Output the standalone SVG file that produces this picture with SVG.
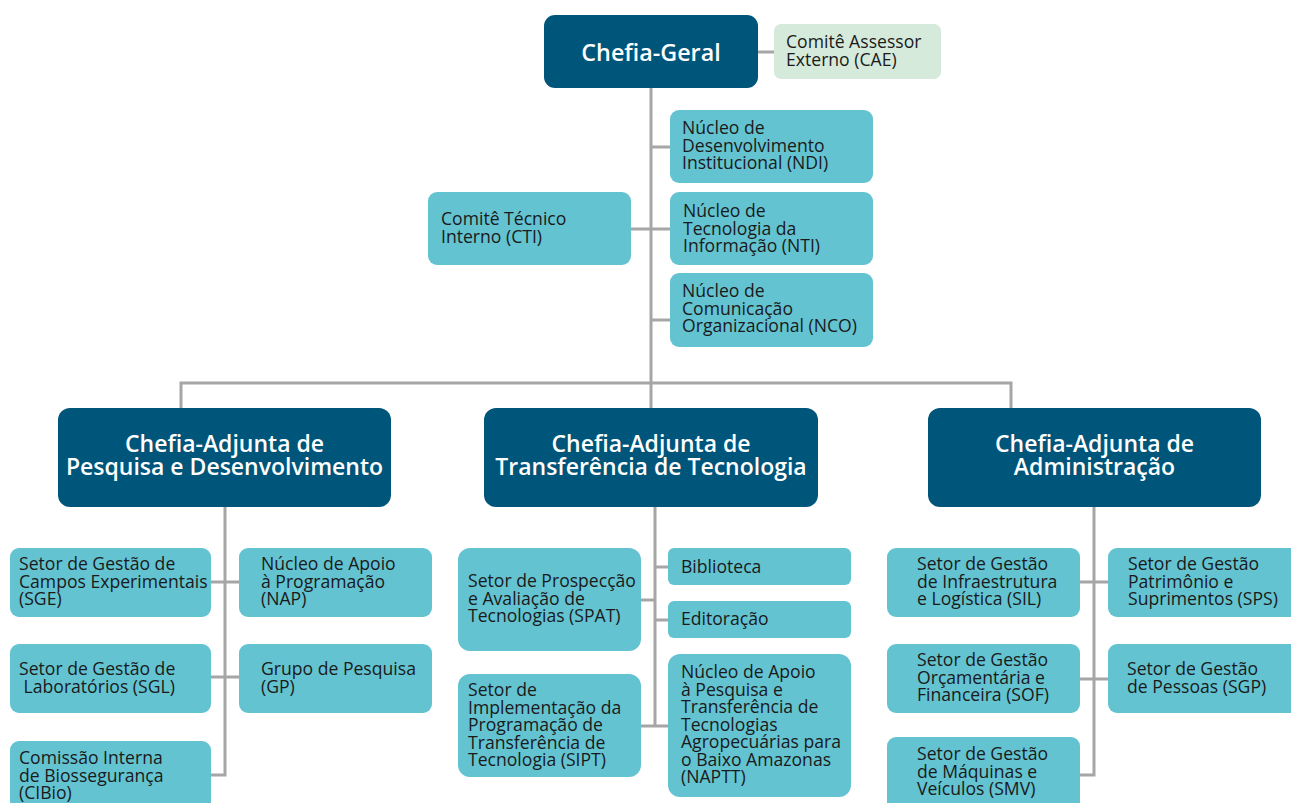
<svg xmlns="http://www.w3.org/2000/svg" width="1291" height="803" viewBox="0 0 1291 803">
<style>
.dk{fill:#00557a}
.lt{fill:#63c3d1}
.gr{fill:#d6eadb}
.h{font-family:"Open Sans","Noto Sans",sans-serif;font-weight:600;fill:#fff;text-anchor:middle}
.t{font-family:"Open Sans","Noto Sans",sans-serif;font-size:17.6px;fill:#1a1a1a}
.c{fill:none;stroke:#a6a6a6;stroke-width:3}
</style>
<rect width="1291" height="803" fill="#fff"/>
<g id="connectors" class="c">
<path d="M758 52H774"/>
<path d="M651 88V408"/>
<path d="M651 147H670M651 229H670M631 229H651M651 320H670"/>
<path d="M181 408V383H1011V408"/>
<path d="M225 507V775H211M211 582H239M211 677H239"/>
<path d="M655 507V726M641 600H655M655 567H668M655 620H668M641 726H668"/>
<path d="M1094 507V775H1080M1080 582H1108M1080 679H1108"/>
</g>
<g id="cg"><rect class="dk" x="544" y="15" width="214" height="73" rx="11"/><text class="h" x="651" y="61" font-size="23.3">Chefia-Geral</text></g>
<g id="cae"><rect class="gr" x="774" y="24" width="167" height="55" rx="7"/><text class="t" x="786" y="48">Comitê Assessor<tspan x="786" dy="17.5">Externo (CAE)</tspan></text></g>
<g id="ndi"><rect class="lt" x="670" y="110" width="203" height="73" rx="9"/><text class="t" x="682" y="134">Núcleo de<tspan x="682" dy="17.5">Desenvolvimento</tspan><tspan x="682" dy="17.5">Institucional (NDI)</tspan></text></g>
<g id="nti"><rect class="lt" x="670" y="192" width="203" height="73" rx="9"/><text class="t" x="683" y="217">Núcleo de<tspan x="683" dy="17.5">Tecnologia da</tspan><tspan x="683" dy="17.5">Informação (NTI)</tspan></text></g>
<g id="cti"><rect class="lt" x="428" y="192" width="203" height="73" rx="9"/><text class="t" x="441" y="225">Comitê Técnico<tspan x="441" dy="17.5">Interno (CTI)</tspan></text></g>
<g id="nco"><rect class="lt" x="670" y="273" width="203" height="74" rx="9"/><text class="t" x="682" y="297">Núcleo de<tspan x="682" dy="17.5">Comunicação</tspan><tspan x="682" dy="17.5">Organizacional (NCO)</tspan></text></g>
<g id="capd"><rect class="dk" x="58" y="408" width="333" height="99" rx="12"/><text class="h" x="224.5" y="452" font-size="23">Chefia-Adjunta de<tspan x="224.5" dy="23">Pesquisa e Desenvolvimento</tspan></text></g>
<g id="catt"><rect class="dk" x="484" y="408" width="334" height="99" rx="12"/><text class="h" x="651" y="452" font-size="23">Chefia-Adjunta de<tspan x="651" dy="23">Transferência de Tecnologia</tspan></text></g>
<g id="caad"><rect class="dk" x="928" y="408" width="333" height="99" rx="12"/><text class="h" x="1094.5" y="452" font-size="23">Chefia-Adjunta de<tspan x="1094.5" dy="23">Administração</tspan></text></g>
<g id="sge"><rect class="lt" x="10" y="548" width="201" height="69" rx="9"/><text class="t" x="19" y="570">Setor de Gestão de<tspan x="19" dy="17.5">Campos Experimentais</tspan><tspan x="19" dy="17.5">(SGE)</tspan></text></g>
<g id="nap"><rect class="lt" x="239" y="548" width="193" height="69" rx="9"/><text class="t" x="261" y="570">Núcleo de Apoio<tspan x="261" dy="17.5">à Programação</tspan><tspan x="261" dy="17.5">(NAP)</tspan></text></g>
<g id="sgl"><rect class="lt" x="10" y="644" width="201" height="69" rx="9"/><text class="t" x="19" y="675">Setor de Gestão de<tspan x="19" dy="17.5"> Laboratórios (SGL)</tspan></text></g>
<g id="gp"><rect class="lt" x="239" y="644" width="193" height="69" rx="9"/><text class="t" x="261" y="675">Grupo de Pesquisa<tspan x="261" dy="17.5">(GP)</tspan></text></g>
<g id="cibio"><rect class="lt" x="10" y="741" width="201" height="72" rx="9"/><text class="t" x="19" y="764">Comissão Interna<tspan x="19" dy="17.5">de Biossegurança</tspan><tspan x="19" dy="17.5">(CIBio)</tspan></text></g>
<g id="spat"><rect class="lt" x="458" y="548" width="183" height="103" rx="12"/><text class="t" x="468" y="587">Setor de Prospecção<tspan x="468" dy="17.5">e Avaliação de</tspan><tspan x="468" dy="17.5">Tecnologias (SPAT)</tspan></text></g>
<g id="bib"><rect class="lt" x="668" y="548" width="183" height="37" rx="6"/><text class="t" x="681" y="573">Biblioteca</text></g>
<g id="edi"><rect class="lt" x="668" y="601" width="183" height="37" rx="6"/><text class="t" x="681" y="625">Editoração</text></g>
<g id="sipt"><rect class="lt" x="458" y="674" width="183" height="103" rx="12"/><text class="t" x="468" y="696">Setor de<tspan x="468" dy="17.5">Implementação da</tspan><tspan x="468" dy="17.5">Programação de</tspan><tspan x="468" dy="17.5">Transferência de</tspan><tspan x="468" dy="17.5">Tecnologia (SIPT)</tspan></text></g>
<g id="naptt"><rect class="lt" x="668" y="654" width="183" height="143" rx="12"/><text class="t" x="681" y="678">Núcleo de Apoio<tspan x="681" dy="17.5">à Pesquisa e</tspan><tspan x="681" dy="17.5">Transferência de</tspan><tspan x="681" dy="17.5">Tecnologias</tspan><tspan x="681" dy="17.5">Agropecuárias para</tspan><tspan x="681" dy="17.5">o Baixo Amazonas</tspan><tspan x="681" dy="17.5">(NAPTT)</tspan></text></g>
<g id="sil"><rect class="lt" x="887" y="548" width="193" height="69" rx="9"/><text class="t" x="917" y="570">Setor de Gestão<tspan x="917" dy="17.5">de Infraestrutura</tspan><tspan x="917" dy="17.5">e Logística (SIL)</tspan></text></g>
<g id="sps"><rect class="lt" x="1108" y="548" width="193" height="69" rx="9"/><text class="t" x="1128" y="570">Setor de Gestão<tspan x="1128" dy="17.5">Patrimônio e</tspan><tspan x="1128" dy="17.5">Suprimentos (SPS)</tspan></text></g>
<g id="sof"><rect class="lt" x="887" y="644" width="193" height="69" rx="9"/><text class="t" x="917" y="666">Setor de Gestão<tspan x="917" dy="17.5">Orçamentária e</tspan><tspan x="917" dy="17.5">Financeira (SOF)</tspan></text></g>
<g id="sgp"><rect class="lt" x="1108" y="644" width="193" height="69" rx="9"/><text class="t" x="1127" y="675">Setor de Gestão<tspan x="1127" dy="17.5">de Pessoas (SGP)</tspan></text></g>
<g id="smv"><rect class="lt" x="887" y="737" width="193" height="76" rx="9"/><text class="t" x="917" y="760">Setor de Gestão<tspan x="917" dy="17.5">de Máquinas e</tspan><tspan x="917" dy="17.5">Veículos (SMV)</tspan></text></g>
</svg>
